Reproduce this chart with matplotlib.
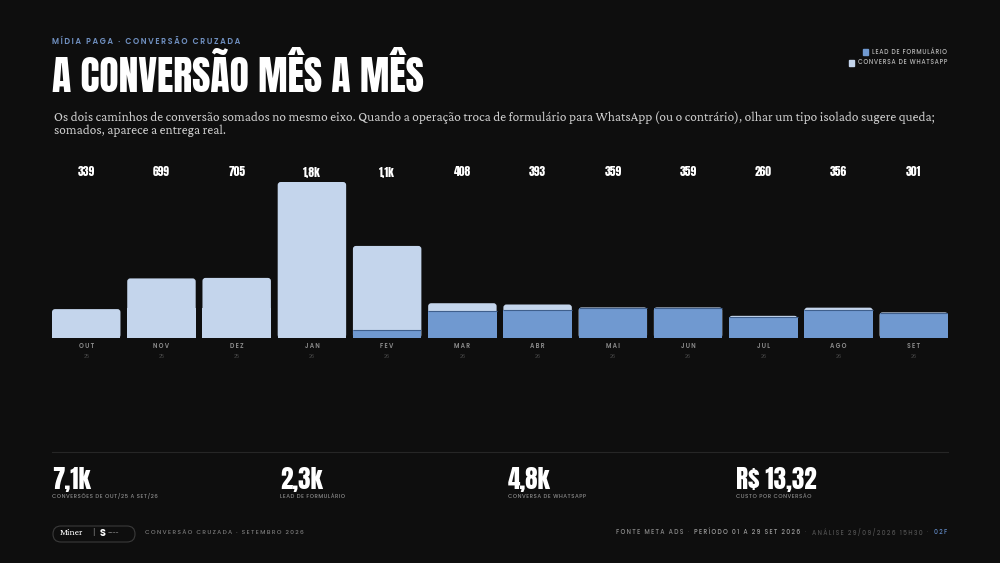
import numpy as np
import matplotlib
matplotlib.use("Agg")
import matplotlib.pyplot as plt
import matplotlib.transforms as mtransforms
from matplotlib.patches import FancyBboxPatch, Rectangle

# data
months = ["OUT", "NOV", "DEZ", "JAN", "FEV", "MAR", "ABR", "MAI", "JUN", "JUL", "AGO", "SET"]
years = ["25", "25", "25", "26", "26", "26", "26", "26", "26", "26", "26", "26"]
lead_form = [0, 0, 0, 0, 91, 317, 324, 347, 347, 248, 328, 289]
whatsapp = [339, 699, 705, 1830, 989, 91, 69, 12, 12, 12, 28, 12]
value_labels = ["339", "699", "705", "1,8k", "1,1k", "408", "393", "359", "359", "260", "356", "301"]

kpi_values = ["7,1k", "2,3k", "4,8k", "R$ 13,32"]
kpi_labels = ["CONVERSÕES DE OUT/25 A SET/26", "LEAD DE FORMULÁRIO",
              "CONVERSA DE WHATSAPP", "CUSTO POR CONVERSÃO"]

BG = "#0e0e0e"
LIGHT = "#c4d5ec"
DARK = "#7099d0"
COND = ["Anton", "DejaVu Sans"]
SANS = ["Poppins", "DejaVu Sans"]
SERIF = ["Crimson Pro", "Crimson Text", "EB Garamond", "Liberation Serif"]

W, H = 1000, 563


def fy(py):
    return 1 - py / H


def fx(px):
    return px / W


def spaced(s, sep="\u2009"):
    return sep.join(s)


fig = plt.figure(figsize=(10, 5.63), dpi=100, facecolor=BG)
renderer = fig.canvas.get_renderer()

# header
fig.text(fx(52), fy(42), spaced("MÍDIA PAGA · CONVERSÃO CRUZADA"), color="#6f8fbf",
         fontsize=5.7, fontweight="semibold", family=SANS, va="center")
fig.text(fx(52), fy(74), "A CONVERSÃO MÊS A MÊS", color="white", fontsize=28.5,
         family=COND, va="center")
fig.text(fx(54), fy(118), "Os dois caminhos de conversão somados no mesmo eixo. Quando a operação troca de "
         "formulário para WhatsApp (ou o contrário), olhar um tipo isolado sugere queda;",
         color="#cccccc", fontsize=9.6, family=SERIF, va="center")
fig.text(fx(54), fy(131), "somados, aparece a entrega real.",
         color="#cccccc", fontsize=9.6, family=SERIF, va="center")

# legend
for py, col, lab in [(52, DARK, "LEAD DE FORMULÁRIO"), (63, LIGHT, "CONVERSA DE WHATSAPP")]:
    t = fig.text(fx(947), fy(py), spaced(lab, "\u200a"), color="#b5b5b5", fontsize=4.4,
                 family=SANS, fontweight="medium", ha="right", va="center")
    bb = t.get_window_extent(renderer)
    fig.add_artist(Rectangle((bb.x0 / W - fx(9), fy(py + 2.5)), fx(5), 5 / H, color=col,
                             transform=fig.transFigure))

# bars
ax = fig.add_axes([fx(52), fy(338), fx(896), 156 / H])
ax.set_facecolor(BG)
x = np.arange(len(months))
lead_form = np.array(lead_form)
whatsapp = np.array(whatsapp)
total = lead_form + whatsapp
w = 0.91
ax.set_xlim(-w / 2, len(months) - 1 + w / 2)
ax.set_ylim(0, total.max())
ax.axis("off")

# rounded top corners: ~3 px
xu_per_px = (len(months) - 1 + w) / 896
yu_per_px = total.max() / 156
r = 3 * xu_per_px
for i in range(len(months)):
    ax.add_patch(FancyBboxPatch((x[i] - w / 2, 0), w, total[i],
                                boxstyle=f"round,pad=0,rounding_size={r}",
                                mutation_aspect=yu_per_px / xu_per_px,
                                facecolor=LIGHT, edgecolor="none"))
    ax.add_patch(Rectangle((x[i] - w / 2, 0), w, total[i] / 2, facecolor=LIGHT, edgecolor="none"))
ax.bar(x, lead_form, width=w, color=DARK)
mask = (lead_form > 0) & (whatsapp > 0)
ax.hlines(lead_form[mask], x[mask] - w / 2, x[mask] + w / 2, color="#3f5f8c", lw=0.8)

trans = mtransforms.blended_transform_factory(ax.transData, fig.transFigure)
for i in range(len(months)):
    ax.text(x[i], fy(172), value_labels[i], transform=trans, color="white", fontsize=8.3,
            family=COND, ha="center", va="center")
    ax.text(x[i], fy(346), spaced(months[i]), transform=trans, color="#8c8c8c", fontsize=4.4,
            fontweight="semibold", family=SANS, ha="center", va="center")
    ax.text(x[i], fy(357), years[i], transform=trans, color="#4a4a4a", fontsize=3.6,
            family=SANS, ha="center", va="center")

# separator
fig.add_artist(plt.Line2D([fx(52), fx(948)], [fy(452), fy(452)], color="#262626", lw=0.8))

# KPIs
for i, (v, lab) in enumerate(zip(kpi_values, kpi_labels)):
    px = 52 + i * 228
    fig.text(fx(px), fy(479), v, color="white", fontsize=18,
             family=COND, va="center")
    fig.text(fx(px), fy(496), spaced(lab, "\u200a"), color="#8a8a8a", fontsize=3.9,
             family=SANS, fontweight="medium", va="center")

# footer
fig.add_artist(FancyBboxPatch((fx(53), fy(542)), fx(82), 16 / H,
                              boxstyle="round,pad=0,rounding_size=0.008",
                              transform=fig.transFigure, facecolor=BG,
                              edgecolor="#3a3a3a", lw=0.8, mutation_aspect=W / H))
fig.text(fx(60), fy(533), "Miner", color="white", fontsize=7,
         family=SERIF, va="center")
fig.text(fx(92), fy(533), "|", color="#777777", fontsize=6, va="center", family=SANS)
fig.text(fx(100), fy(533), "S", color="white", fontsize=7, fontweight="bold",
         va="center", family=SANS)
fig.text(fx(108), fy(533), "~~~~", color="#cccccc", fontsize=4, va="center", family=SANS)
fig.text(fx(145), fy(533), spaced("CONVERSÃO CRUZADA · SETEMBRO 2026"), color="#7a7a7a",
         fontsize=4.3, fontweight="medium", family=SANS, va="center")

right = fx(947)
parts = [("02F", "#5f86c0"), ("   ·   ", "#444444"),
         ("ANÁLISE 29/09/2026 15H30", "#4f4f4f"), ("   ·   ", "#444444"),
         ("PERÍODO 01 A 29 SET 2026", "#9a9a9a"), ("   ·   ", "#444444"),
         ("FONTE META ADS", "#8a8a8a")]
for txt, col in parts:
    t = fig.text(right, fy(533), spaced(txt) if txt.strip() != "·" else txt, color=col,
                 fontsize=4.4, fontweight="medium", family=SANS, ha="right", va="center")
    bb = t.get_window_extent(renderer)
    right -= bb.width / fig.bbox.width

fig.savefig("out.png", dpi=100, facecolor=BG)
